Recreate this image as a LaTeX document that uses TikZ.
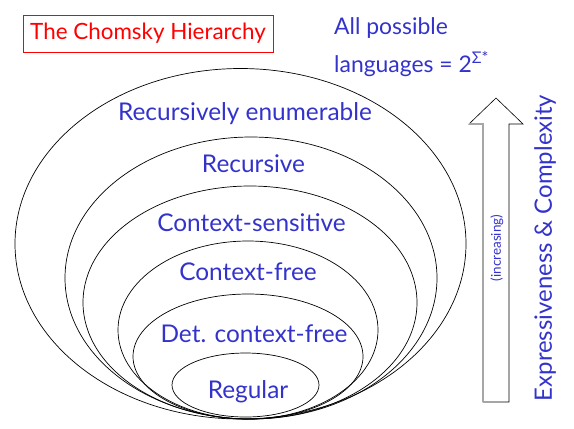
\documentclass[tikz,border=0pt]{standalone}
\usepackage{fontspec}
\setmainfont{Lato}
\definecolor{langblue}{RGB}{51,51,204}
\begin{document}
\begin{tikzpicture}[x=1bp,y=-1bp,
  lang/.style={text=langblue,font=\fontsize{24.5}{26}\selectfont,inner sep=0pt,anchor=base},
  ring/.style={draw=black,line width=0.7pt}]
\useasboundingbox (0,0) rectangle (574,428);

% nested language classes, all touching at the bottom
\draw[ring] (240.5,243.75) ellipse [x radius=225.5,y radius=175.25];
\draw[ring] (251,278) ellipse [x radius=186,y radius=141];
\draw[ring] (250,302.5) ellipse [x radius=167,y radius=116.5];
\draw[ring] (248,330) ellipse [x radius=130,y radius=89];
\draw[ring] (248,356.5) ellipse [x radius=115,y radius=62.5];
\draw[ring] (245.5,385) ellipse [x radius=73.5,y radius=32];

\node[lang] (re) at (245,120) {Recursively enumerable};
\node[lang] (rec) at (253.5,172) {Recursive};
\node[lang] (cs) at (251.5,231) {Context-sensitive};
\node[lang] (cf) at (248,280) {Context-free};
\node[lang] (dcf) at (254,342) {Det. context-free};
\node[lang] (reg) at (248,398) {Regular};

\node[draw=red,line width=0.6pt,text=red,font=\fontsize{22.5}{24}\selectfont,
  minimum width=250bp,minimum height=37bp,inner sep=0pt] (title) at (148,33.5) {The Chomsky Hierarchy};

\node[lang,anchor=base west,font=\fontsize{23}{25}\selectfont] (all) at (334,34) {All possible};
\node[lang,anchor=base west,font=\fontsize{23}{25}\selectfont] (lang) at (334,72) {languages = 2\textsuperscript{Σ*}};

% the upward arrow
\draw[line width=0.6pt] (483,402) -- (483,124) -- (469,124) -- (496,98) -- (523,124)
  -- (509,124) -- (509,402) -- cycle;
\draw[black!35,line width=1.2pt] (483,402) -- (483,124) -- (469,124);
\node[text=langblue,font=\fontsize{13.5}{15}\selectfont,rotate=90,inner sep=0pt] (inc) at (497,248) {(increasing)};
\node[text=langblue,font=\fontsize{24}{26}\selectfont,rotate=90,inner sep=0pt] (expr) at (545,248) {Expressiveness \& Complexity};

\end{tikzpicture}
\end{document}
